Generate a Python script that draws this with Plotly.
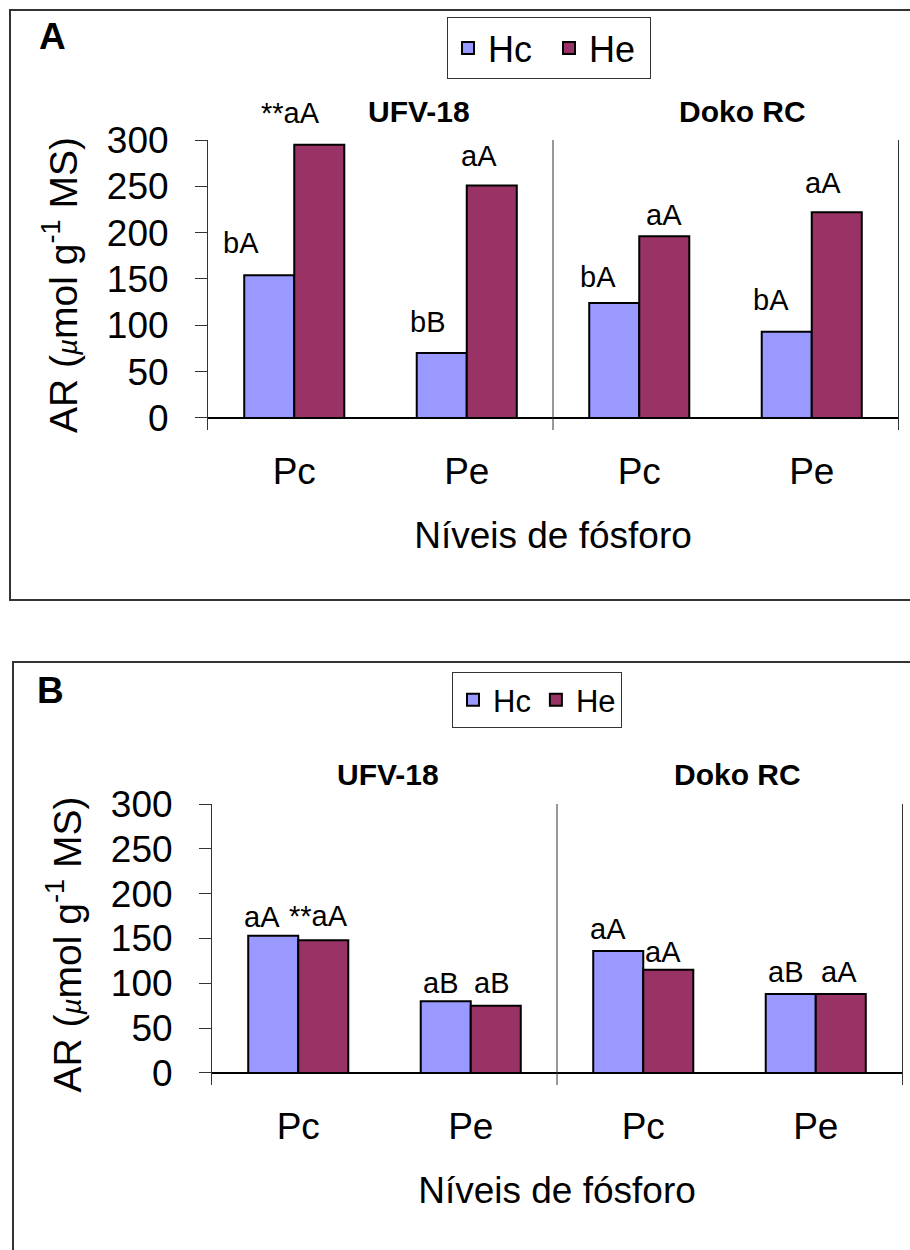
import plotly.graph_objects as go

# ---------------- data ----------------
categories = ["Pc", "Pe", "Pc", "Pe"]
cultivars = ["UFV-18", "Doko RC"]
series_names = ["Hc", "He"]
y_ticks = [0, 50, 100, 150, 200, 250, 300]

a_hc = [154, 70, 124, 93]
a_he = [295, 251, 196, 222]
a_hc_lbl = ["bA", "bB", "bA", "bA"]
a_he_lbl = ["**aA", "aA", "aA", "aA"]

b_hc = [153, 80, 136, 88]
b_he = [148, 75, 115, 88]
b_hc_lbl = ["aA", "aB", "aA", "aB"]
b_he_lbl = ["**aA", "aB", "aA", "aA"]

# ---------------- styling ----------------
FONT = "Liberation Sans, Arial, sans-serif"
C_HC = "#9999FF"
C_HE = "#993366"
BARGAP = 0.42
HALF = (1 - BARGAP) / 4  # centre offset of each bar within its group

# label pixel offsets (x, y) relative to bar top centre
A_HC_OFF = [(-28, 32), (-14, 31), (-16, 26), (-16, 32)]
A_HE_OFF = [(-29, 32), (-13, 29), (0, 21), (-14, 29)]
B_HC_OFF = [(-11, 19), (-5, 18), (-10, 22), (-5, 22)]
B_HE_OFF = [(-5, 24), (-4, 23), (-5, 18), (-2, 22)]
A_GRP_SHIFT = [38, 17]
B_GRP_SHIFT = [3, 8]

xs = list(range(len(categories)))

fig = go.Figure()


def add_panel(hc, he, xa, ya, legend):
    for name, vals, col in ((series_names[0], hc, C_HC), (series_names[1], he, C_HE)):
        fig.add_trace(go.Bar(
            x=xs, y=vals, name=name, xaxis=xa, yaxis=ya, legend=legend,
            marker=dict(color=col, line=dict(color="black", width=2)),
            hoverinfo="skip",
        ))


add_panel(a_hc, a_he, "x", "y", "legend")
add_panel(b_hc, b_he, "x2", "y2", "legend2")

annotations = []


def add_labels(hc, he, hl, el, hoff, eoff, xref, yref):
    for i in xs:
        annotations.append(dict(x=i - HALF, y=hc[i], xref=xref, yref=yref, text=hl[i],
                                showarrow=False, xshift=hoff[i][0], yshift=hoff[i][1],
                                yanchor="middle", font=dict(size=29, family=FONT, color="black")))
        annotations.append(dict(x=i + HALF, y=he[i], xref=xref, yref=yref, text=el[i],
                                showarrow=False, xshift=eoff[i][0], yshift=eoff[i][1],
                                yanchor="middle", font=dict(size=29, family=FONT, color="black")))


add_labels(a_hc, a_he, a_hc_lbl, a_he_lbl, A_HC_OFF, A_HE_OFF, "x", "y")
add_labels(b_hc, b_he, b_hc_lbl, b_he_lbl, B_HC_OFF, B_HE_OFF, "x2", "y2")

# cultivar group labels
for g, name in enumerate(cultivars):
    annotations.append(dict(x=2 * g + 0.5, y=y_ticks[-1], xref="x", yref="y", text="<b>%s</b>" % name,
                            showarrow=False, xshift=A_GRP_SHIFT[g], yshift=28, yanchor="middle",
                            font=dict(size=30, family=FONT, color="black")))
    annotations.append(dict(x=2 * g + 0.5, y=y_ticks[-1], xref="x2", yref="y2", text="<b>%s</b>" % name,
                            showarrow=False, xshift=B_GRP_SHIFT[g], yshift=30, yanchor="middle",
                            font=dict(size=30, family=FONT, color="black")))

# panel letters
annotations.append(dict(x=52 / 910, y=1 - 37 / 1250, xref="paper", yref="paper", text="<b>A</b>",
                        showarrow=False, xanchor="center", yanchor="middle",
                        font=dict(size=37, family=FONT, color="black")))
annotations.append(dict(x=50 / 910, y=1 - 690 / 1250, xref="paper", yref="paper", text="<b>B</b>",
                        showarrow=False, xanchor="center", yanchor="middle",
                        font=dict(size=37, family=FONT, color="black")))

shapes = [
    # panel frames
    dict(type="rect", xref="paper", yref="paper", x0=10 / 910, x1=1.02, y0=1 - 600 / 1250, y1=1 - 10 / 1250,
         line=dict(color="#333333", width=2), layer="below"),
    dict(type="rect", xref="paper", yref="paper", x0=13 / 910, x1=1.02, y0=-0.02, y1=1 - 662 / 1250,
         line=dict(color="#333333", width=2), layer="below"),
    # cultivar dividers
    dict(type="line", xref="x", yref="y", x0=1.5, x1=1.5, y0=-13, y1=300, line=dict(color="#333333", width=1)),
    dict(type="line", xref="x2", yref="y2", x0=1.5, x1=1.5, y0=-13.4, y1=300, line=dict(color="#333333", width=1)),
]

ytitle = "AR (<span style='font-size:28px'><i>µ</i></span>mol g<sup>-1</sup> MS)"


def xaxis(domain):
    return dict(domain=domain, range=[-0.5, 3.5], tickvals=xs, ticktext=categories,
                showline=False, showgrid=False, zeroline=False, ticks="",
                tickfont=dict(size=37, family=FONT, color="black"), ticklabelstandoff=16,
                title=dict(text="Níveis de fósforo", font=dict(size=37, family=FONT, color="black"), standoff=31),
                automargin=False, fixedrange=True)


def yaxis(domain, lo, anchor):
    return dict(domain=domain, range=[lo, 300], tickvals=y_ticks, anchor=anchor,
                showline=True, linecolor="#333333", linewidth=1, mirror=True,
                ticks="outside", ticklen=12, tickcolor="#333333", ticklabelstandoff=19,
                showgrid=False, zeroline=True, zerolinecolor="black", zerolinewidth=1.5,
                tickfont=dict(size=37, family=FONT, color="black"),
                title=dict(text=ytitle, font=dict(size=39, family=FONT, color="black"), standoff=17),
                automargin=False, fixedrange=True)


fig.update_layout(
    width=910, height=1250, margin=dict(l=0, r=0, t=0, b=0),
    paper_bgcolor="white", plot_bgcolor="white",
    barmode="group", bargap=BARGAP, bargroupgap=0,
    font=dict(family=FONT, color="black"),
    xaxis=xaxis([208 / 910, 898 / 910]),
    yaxis=yaxis([1 - 430 / 1250, 1 - 140 / 1250], -13, "x"),
    xaxis2=xaxis([212 / 910, 902 / 910]) | dict(anchor="y2"),
    yaxis2=yaxis([1 - 1085 / 1250, 1 - 804 / 1250], -13.4, "x2"),
    legend=dict(orientation="h", x=447 / 910, y=1 - 17 / 1250, xanchor="left", yanchor="top",
                bordercolor="#333333", borderwidth=1, bgcolor="white", entrywidth=56,
                font=dict(size=36, family=FONT, color="black")),
    legend2=dict(orientation="h", x=452 / 910, y=1 - 672 / 1250, xanchor="left", yanchor="top",
                 bordercolor="#333333", borderwidth=1, bgcolor="white",
                 font=dict(size=31, family=FONT, color="black")),
    annotations=annotations, shapes=shapes,
)
fig.layout.xaxis.anchor = "y"

fig.write_html("out.html")
